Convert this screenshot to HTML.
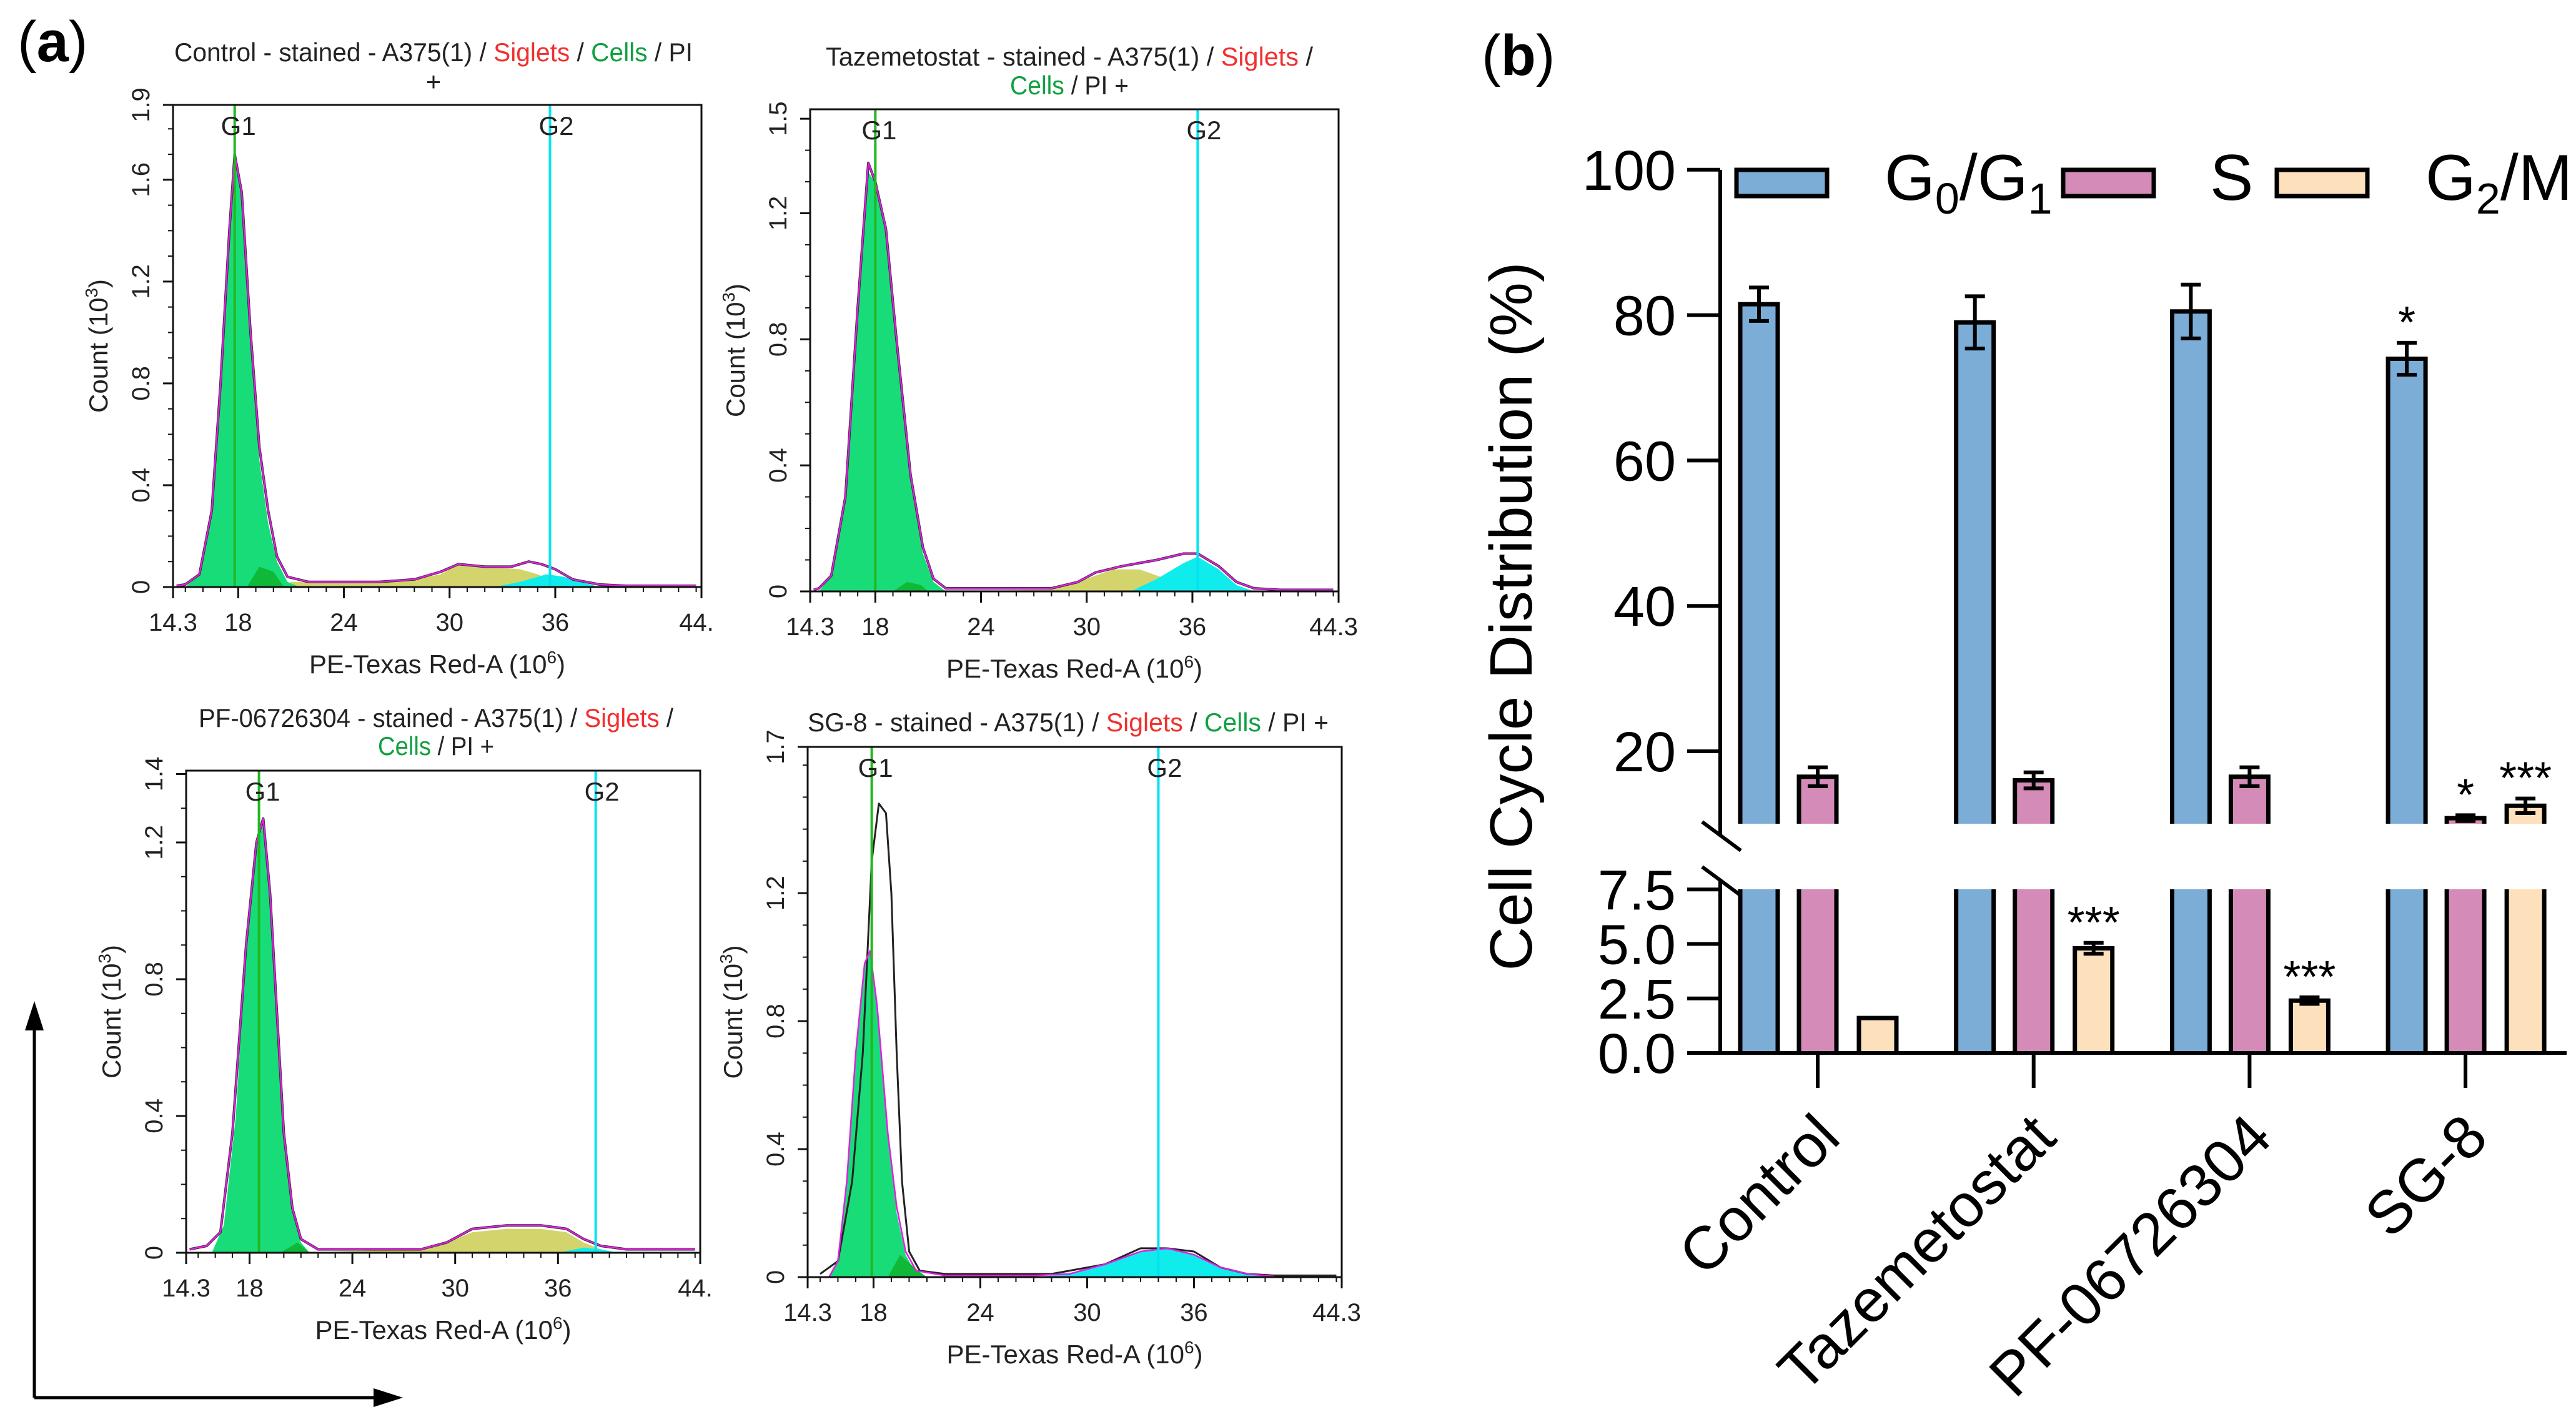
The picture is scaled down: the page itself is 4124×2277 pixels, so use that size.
<!DOCTYPE html>
<html><head><meta charset="utf-8"><style>
html,body{margin:0;padding:0;background:#fff;}
svg{display:block;font-family:"Liberation Sans",Arial,sans-serif;}
</style></head><body>
<svg id="fig" xmlns="http://www.w3.org/2000/svg" width="4124" height="2277" viewBox="0 0 4124 2277">
<rect width="4124" height="2277" fill="#fff"/>
<text x="28" y="98" font-size="92"><tspan>(</tspan><tspan font-weight="bold">a</tspan><tspan>)</tspan></text>
<text x="2372" y="120" font-size="92"><tspan>(</tspan><tspan font-weight="bold">b</tspan><tspan>)</tspan></text>
<g id="flow"></g>
<g id="bar"></g>
<g>
<line x1="55" y1="2238" x2="55" y2="1640" stroke="#000" stroke-width="5"/>
<polygon points="55,1603 40,1650 70,1650" fill="#000"/>
<line x1="55" y1="2238" x2="610" y2="2238" stroke="#000" stroke-width="5"/>
<polygon points="645,2238 598,2223 598,2253" fill="#000"/>
</g>
</svg>
<script>
// ---------- Panel (b) data ----------
const categories = ['Control','Tazemetostat','PF-06726304','SG-8'];
const g1Values = [81.5, 79, 80.5, 74];
const g1Errors = [2.3, 3.6, 3.7, 2.2];
const sValues = [16.5, 16, 16.5, 10.8];
const sErrors = [1.3, 1.1, 1.3, 0.4];
const g2mValues = [1.6, 4.8, 2.4, 12.5];
const g2mErrors = [0, 0.25, 0.15, 1.0];
const g1Sig = ['', '', '', '*'];
const sSig = ['', '', '', '*'];
const g2mSig = ['', '***', '***', '***'];
const upperTicks = [20, 40, 60, 80, 100];
const lowerTicks = [0, 2.5, 5, 7.5];
const lowerTickLabels = ['0.0','2.5','5.0','7.5'];

// ---------- Panel (a) histogram data: [channel (10^6), count (10^3)] ----------
const p1Green = [[15,0],[15.8,0.05],[16.5,0.3],[17,0.8],[17.5,1.4],[17.8,1.67],[18.2,1.55],[18.7,1.0],[19.2,0.5],[19.7,0.25],[20.2,0.1],[20.8,0.02],[21.5,0]];
const p1Dark = [[18.5,0],[19.2,0.08],[20,0.06],[20.6,0]];
const p1Yellow = [[20.5,0],[21,0.02],[24,0.02],[28,0.03],[29.5,0.05],[30.5,0.09],[32,0.08],[34,0.07],[35,0.05],[36,0.02],[37,0]];
const p1Cyan = [[32.5,0],[34,0.02],[35.5,0.05],[36.5,0.04],[37.5,0.02],[38.5,0]];
const p1Total = [[14.5,0.005],[15,0.01],[15.8,0.05],[16.5,0.3],[17,0.8],[17.5,1.4],[17.8,1.7],[18.2,1.55],[18.7,1.0],[19.2,0.55],[19.7,0.3],[20.2,0.12],[20.8,0.04],[22,0.02],[26,0.02],[28,0.03],[29.5,0.06],[30.5,0.09],[32,0.08],[33.5,0.08],[34.5,0.1],[35.2,0.09],[36,0.07],[37,0.03],[38.5,0.01],[40,0.005],[44,0.005]];

const p2Green = [[14.8,0],[15.5,0.05],[16.3,0.3],[17,0.9],[17.6,1.33],[18,1.3],[18.6,1.15],[19.2,0.8],[20,0.35],[20.7,0.12],[21.3,0.03],[22,0]];
const p2Dark = [[19,0],[19.8,0.03],[20.6,0.02],[21,0]];
const p2Yellow = [[21.5,0],[28,0.005],[30,0.04],[31.5,0.07],[33,0.07],[34.5,0.04],[35.5,0.01],[36,0]];
const p2Cyan = [[32.5,0],[34,0.04],[35.5,0.09],[36.3,0.11],[37.5,0.07],[38.5,0.02],[39.5,0]];
const p2Total = [[14.5,0.005],[14.8,0.01],[15.5,0.05],[16.3,0.3],[17,0.9],[17.6,1.36],[18,1.3],[18.6,1.15],[19.2,0.8],[20,0.37],[20.7,0.14],[21.3,0.04],[22,0.01],[28,0.01],[29.5,0.03],[30.5,0.06],[32,0.08],[34,0.1],[35.5,0.12],[36.3,0.12],[37.5,0.08],[38.5,0.03],[39.5,0.01],[41,0.005],[44,0.005]];

const p3Green = [[15.8,0],[16.5,0.08],[17.2,0.4],[17.8,0.9],[18.4,1.2],[18.8,1.25],[19.2,1.05],[19.6,0.7],[20,0.35],[20.5,0.12],[21,0.03],[21.5,0]];
const p3Dark = [[19.8,0],[20.8,0.03],[21.5,0]];
const p3Yellow = [[21,0],[24,0.005],[28,0.01],[29.5,0.03],[31,0.06],[33,0.07],[35,0.07],[36.5,0.06],[37.5,0.03],[38.5,0.01],[39,0]];
const p3Cyan = [[36,0],[37.5,0.015],[38.5,0.01],[39.5,0]];
const p3Total = [[14.5,0.01],[15.5,0.02],[16.3,0.06],[17,0.35],[17.8,0.9],[18.4,1.2],[18.8,1.27],[19.2,1.05],[19.6,0.7],[20,0.35],[20.5,0.13],[21,0.04],[22,0.01],[28,0.01],[29.5,0.03],[31,0.07],[33,0.08],[35,0.08],[36.5,0.07],[37.5,0.04],[38.5,0.02],[40,0.01],[44,0.01]];

const p4Green = [[15.5,0],[16,0.05],[16.5,0.3],[17,0.7],[17.5,0.98],[17.8,1.02],[18.2,0.85],[18.8,0.45],[19.3,0.2],[19.8,0.07],[20.4,0.01],[21,0]];
const p4Dark = [[18.8,0],[19.5,0.07],[20.5,0.02],[21,0]];
const p4Yellow = [];
const p4Cyan = [[27,0],[29,0.01],[31,0.04],[33,0.08],[34.5,0.09],[36,0.07],[37.5,0.03],[39,0.01],[40.5,0]];
const p4Total = [[15.5,0],[16,0.05],[16.5,0.3],[17,0.7],[17.5,0.98],[17.8,1.02],[18.2,0.85],[18.8,0.45],[19.3,0.22],[19.8,0.08],[20.4,0.02],[22,0.005],[27,0.005],[29,0.01],[31,0.04],[33,0.08],[34.5,0.09],[36,0.07],[37.5,0.03],[39,0.01],[40.5,0.002]];
const p4Raw = [[15,0.01],[16,0.05],[16.8,0.3],[17.4,0.7],[17.9,1.3],[18.3,1.48],[18.7,1.45],[19,1.2],[19.3,0.7],[19.6,0.3],[20,0.08],[20.6,0.02],[22,0.01],[28,0.01],[31,0.04],[33,0.09],[34.5,0.09],[36,0.08],[37.5,0.03],[39,0.01],[40.5,0.005],[44,0.005]];

const xTickValues = [14.3, 18, 24, 30, 36, 44.3];
const gateG1 = [17.8, 18.0, 18.55, 17.9];
const gateG2 = [35.7, 36.3, 38.2, 34.0];
const yMaxes = [1.894, 1.53, 1.41, 1.657];
const yTickSets = [[0,0.4,0.8,1.2,1.6,1.9],[0,0.4,0.8,1.2,1.5],[0,0.4,0.8,1.2,1.4],[0,0.4,0.8,1.2,1.7]];
const lastXLabel = ['44.','44.3','44.','44.3'];

const NS = 'http://www.w3.org/2000/svg';
function mk(tag, attrs, parent) {
  const e = document.createElementNS(NS, tag);
  for (const k in attrs) e.setAttribute(k, attrs[k]);
  if (parent) parent.appendChild(e);
  return e;
}

// ---------- Flow panels ----------
const flowRoot = document.getElementById('flow');
const layouts = [
  {l:277,r:1123,t:168,b:940, title:[[['Control - stained - A375(1) / ','#222'],['Siglets','#f03030'],[' / ','#222'],['Cells','#10a040'],[' / PI','#222']],[['+','#222']]], tx:694, ty:[98,145], tl:[830,0]},
  {l:1297,r:2143,t:175,b:947, title:[[['Tazemetostat - stained - A375(1) / ','#222'],['Siglets','#f03030'],[' /','#222']],[['Cells','#10a040'],[' / PI +','#222']]], tx:1712, ty:[105,151], tl:[780,190]},
  {l:298,r:1121,t:1234,b:2006, title:[[['PF-06726304 - stained - A375(1) / ','#222'],['Siglets','#f03030'],[' /','#222']],[['Cells','#10a040'],[' / PI +','#222']]], tx:698, ty:[1164,1209], tl:[760,186]},
  {l:1293,r:2148,t:1196,b:2045, title:[[['SG-8 - stained - A375(1) / ','#222'],['Siglets','#f03030'],[' / ','#222'],['Cells','#10a040'],[' / PI +','#222']]], tx:1710, ty:[1171], tl:[834]}
];
const flowData = [
  [p1Green,p1Dark,p1Yellow,p1Cyan,p1Total,null],
  [p2Green,p2Dark,p2Yellow,p2Cyan,p2Total,null],
  [p3Green,p3Dark,p3Yellow,p3Cyan,p3Total,null],
  [p4Green,p4Dark,p4Yellow,p4Cyan,p4Total,p4Raw]
];
const names = ['control','tazemetostat','pf-06726304','sg-8'];

layouts.forEach((L, i) => {
  const g = mk('g', {}, flowRoot);
  
  
  const xs = v => L.l + (v - 14.3) / 30 * (L.r - L.l);
  const ys = v => L.b - v / yMaxes[i] * (L.b - L.t);
  const [gr, dk, ye, cy, tot, raw] = flowData[i];
  const area = (pts, fill, nm) => {
    if (!pts.length) return;
    let d = 'M' + xs(pts[0][0]) + ',' + L.b;
    pts.forEach(p => d += ' L' + xs(p[0]).toFixed(1) + ',' + ys(p[1]).toFixed(1));
    d += ' L' + xs(pts[pts.length-1][0]) + ',' + L.b + ' Z';
    const p = mk('path', {d, fill}, g);
    
    
  };
  const line = (pts, stroke, w, nm) => {
    const p = mk('polyline', {points: pts.map(q => xs(q[0]).toFixed(1)+','+ys(q[1]).toFixed(1)).join(' '), fill:'none', stroke, 'stroke-width': w, 'stroke-linejoin':'round'}, g);
    
    
  };
  area(ye, '#d4d46c', 's-phase-area');
  area(cy, '#10ecec', 'g2-area');
  area(gr, '#18dc78', 'g1-area');
  area(dk, '#10b838', 'g1-minor-area');
  if (raw) line(raw, '#222', 3, 'raw-histogram-line');
  else line(tot, '#222', 4, 'raw-histogram-line');
  line(tot, '#e020e0', 2.5, 'fit-total-line');
  const gx1 = xs(gateG1[i]), gx2 = xs(gateG2[i]);
  const gl1 = mk('line', {x1:gx1, x2:gx1, y1:L.t, y2:L.b, stroke:'#20b820', 'stroke-width':4}, g);
  
  
  const gl2 = mk('line', {x1:gx2, x2:gx2, y1:L.t, y2:L.b, stroke:'#00e4f0', 'stroke-width':4}, g);
  
  
  const t1 = mk('text', {x:gx1+6, y:L.t+48, 'font-size':42, 'text-anchor':'middle', fill:'#222'}, g);
  t1.textContent = 'G1';
  
  
  const t2 = mk('text', {x:gx2+10, y:L.t+48, 'font-size':42, 'text-anchor':'middle', fill:'#222'}, g);
  t2.textContent = 'G2';
  
  
  const fr = mk('rect', {x:L.l, y:L.t, width:L.r-L.l, height:L.b-L.t, fill:'none', stroke:'#111', 'stroke-width':3}, g);
  
  
  for (let v = 15; v <= 44; v++) {
    mk('line', {x1:xs(v), x2:xs(v), y1:L.b, y2:L.b+8, stroke:'#111', 'stroke-width':2}, g);
  }
  xTickValues.forEach((v, k) => {
    mk('line', {x1:xs(v), x2:xs(v), y1:L.b, y2:L.b+18, stroke:'#111', 'stroke-width':3}, g);
    const t = mk('text', {x:xs(v)+(k===5?-8:0), y:L.b+70, 'font-size':40, 'text-anchor':'middle', fill:'#222'}, g);
    t.textContent = k === 5 ? lastXLabel[i] : String(v);
    
    
  });
  for (let v = 0.1; v < yMaxes[i]; v += 0.1) {
    mk('line', {x1:L.l-8, x2:L.l, y1:ys(v), y2:ys(v), stroke:'#111', 'stroke-width':2}, g);
  }
  yTickSets[i].forEach(v => {
    const yy = Math.max(ys(v), L.t);
    mk('line', {x1:L.l-16, x2:L.l, y1:yy, y2:yy, stroke:'#111', 'stroke-width':3}, g);
    const t = mk('text', {x:0, y:0, 'font-size':40, 'text-anchor':'middle', fill:'#222', transform:'translate('+(L.l-38)+','+yy+') rotate(-90)'}, g);
    t.textContent = String(v);
    
    
  });
  const yt = mk('text', {x:0, y:0, 'font-size':42, 'text-anchor':'middle', fill:'#222', transform:'translate('+(L.l-105)+','+((L.t+L.b)/2)+') rotate(-90)'}, g);
  yt.innerHTML = 'Count  (10<tspan dy="-16" font-size="28">3</tspan><tspan dy="16">)</tspan>';
  
  
  const xt = mk('text', {x:(L.l+L.r)/2, y:L.b+138, 'font-size':42, 'text-anchor':'middle', fill:'#222'}, g);
  xt.innerHTML = 'PE-Texas Red-A  (10<tspan dy="-16" font-size="28">6</tspan><tspan dy="16">)</tspan>';
  
  
  L.title.forEach((segs, li) => {
    const attrs = {x:L.tx, y:L.ty[li], 'font-size':42, 'text-anchor':'middle'};
    if (L.tl[li]) { attrs.textLength = L.tl[li]; attrs.lengthAdjust = 'spacingAndGlyphs'; }
    const t = mk('text', attrs, g);
    
    
    segs.forEach(s => { const ts = mk('tspan', {fill:s[1]}, t); ts.textContent = s[0]; });
  });
});

// ---------- Bar chart ----------
const bar = document.getElementById('bar');
const AX = 2754, XEND = 4109;
const Y20 = 1203, PER_U = 11.64, UP_BOT = 1319, LO_ZERO = 1686, PER_L = 34.9, LO_TOP = 1424;
const yUp = v => Y20 - (v - 20) * PER_U;
const yLo = v => LO_ZERO - v * PER_L;
const yVal = v => v >= 10 ? yUp(v) : yLo(v);
const catX = i => 2910 + i * 345.7;
const BW = 60;
const series = [
  {vals:g1Values, errs:g1Errors, sig:g1Sig, off:-94, fill:'#7badd7', nm:'g0-g1'},
  {vals:sValues, errs:sErrors, sig:sSig, off:0, fill:'#d48bb8', nm:'s-phase'},
  {vals:g2mValues, errs:g2mErrors, sig:g2mSig, off:96, fill:'#fde0bc', nm:'g2-m'}
];
series.forEach(S => {
  S.vals.forEach((v, i) => {
    const cx = catX(i) + S.off, x0 = cx - BW/2;
    const parts = [];
    if (v >= 10) { parts.push([LO_TOP, LO_ZERO]); parts.push([yUp(v), UP_BOT]); }
    else parts.push([yLo(v), LO_ZERO]);
    parts.forEach((p, k) => {
      const topOpen = v >= 10 && k === 0;
      const r = mk('rect', {x:x0, y:p[0], width:BW, height:p[1]-p[0], fill:S.fill}, bar);
      
      
      let d = 'M'+x0+','+p[1]+' L'+x0+','+p[0];
      d += topOpen ? ' M'+(x0+BW)+','+p[0] : ' L'+(x0+BW)+','+p[0];
      d += ' L'+(x0+BW)+','+p[1];
      if (k === 1) d = 'M'+x0+','+p[1]+' L'+x0+','+p[0]+' L'+(x0+BW)+','+p[0]+' L'+(x0+BW)+','+p[1];
      mk('path', {d, fill:'none', stroke:'#000', 'stroke-width':7}, bar);
    });
    const e = S.errs[i];
    if (e > 0) {
      const yt = yVal(v + e), yb = yVal(v - e);
      const eb = mk('path', {d:'M'+cx+','+yb+' L'+cx+','+yt+' M'+(cx-16)+','+yt+' L'+(cx+16)+','+yt+' M'+(cx-16)+','+yb+' L'+(cx+16)+','+yb, stroke:'#000', 'stroke-width':6, fill:'none'}, bar);
      
      
    }
    if (S.sig[i]) {
      const t = mk('text', {x:cx, y:yVal(v + e) - 8, 'font-size':72, 'text-anchor':'middle'}, bar);
      t.textContent = S.sig[i];
      
      
    }
  });
});
mk('path', {d:'M'+AX+',272 L'+AX+',1338 M'+AX+',1408 L'+AX+','+LO_ZERO+' M2701,'+LO_ZERO+' L'+XEND+','+LO_ZERO, stroke:'#000', 'stroke-width':6, fill:'none'}, bar);
mk('path', {d:'M2725,1316 L2787,1362 M2725,1388 L2787,1434', stroke:'#000', 'stroke-width':6, fill:'none'}, bar);
upperTicks.forEach(v => {
  mk('line', {x1:2701, x2:AX, y1:yUp(v), y2:yUp(v), stroke:'#000', 'stroke-width':6}, bar);
  const t = mk('text', {x:2683, y:yUp(v)+32, 'font-size':90, 'text-anchor':'end'}, bar);
  t.textContent = String(v);
  
  
});
lowerTicks.forEach((v, k) => {
  mk('line', {x1:2701, x2:AX, y1:yLo(v), y2:yLo(v), stroke:'#000', 'stroke-width':6}, bar);
  const t = mk('text', {x:2683, y:yLo(v)+32, 'font-size':90, 'text-anchor':'end'}, bar);
  t.textContent = lowerTickLabels[k];
  
  
});
categories.forEach((c, i) => {
  mk('line', {x1:catX(i), x2:catX(i), y1:LO_ZERO, y2:1742, stroke:'#000', 'stroke-width':6}, bar);
  const t = mk('text', {x:0, y:0, 'font-size':97, 'text-anchor':'end', transform:'translate('+(catX(i)+40)+',1826) rotate(-45)'}, bar);
  t.textContent = c;
  
  
});
const yTitle = mk('text', {x:0, y:0, 'font-size':96, 'text-anchor':'middle', textLength:1135, lengthAdjust:'spacingAndGlyphs', transform:'translate(2452,987) rotate(-90)'}, bar);
yTitle.textContent = 'Cell Cycle Distribution (%)';


const legend = [[2780,'#7badd7',3017,'G','0','/G','1'],[3303,'#d48bb8',3538,'S','','',''],[3645,'#fde0bc',3883,'G','2','/M','']];
legend.forEach(L => {
  const lg = mk('g', {}, bar);
  
  
  mk('rect', {x:L[0], y:272, width:145, height:42, fill:L[1], stroke:'#000', 'stroke-width':7}, lg);
  const t = mk('text', {x:L[2], y:320, 'font-size':104}, lg);
  let h = L[3];
  if (L[4]) h += '<tspan dy="22" font-size="70">'+L[4]+'</tspan><tspan dy="-22">'+L[5]+'</tspan>';
  if (L[6]) h += '<tspan dy="22" font-size="70">'+L[6]+'</tspan>';
  t.innerHTML = h;
});
</script>
</body></html>
